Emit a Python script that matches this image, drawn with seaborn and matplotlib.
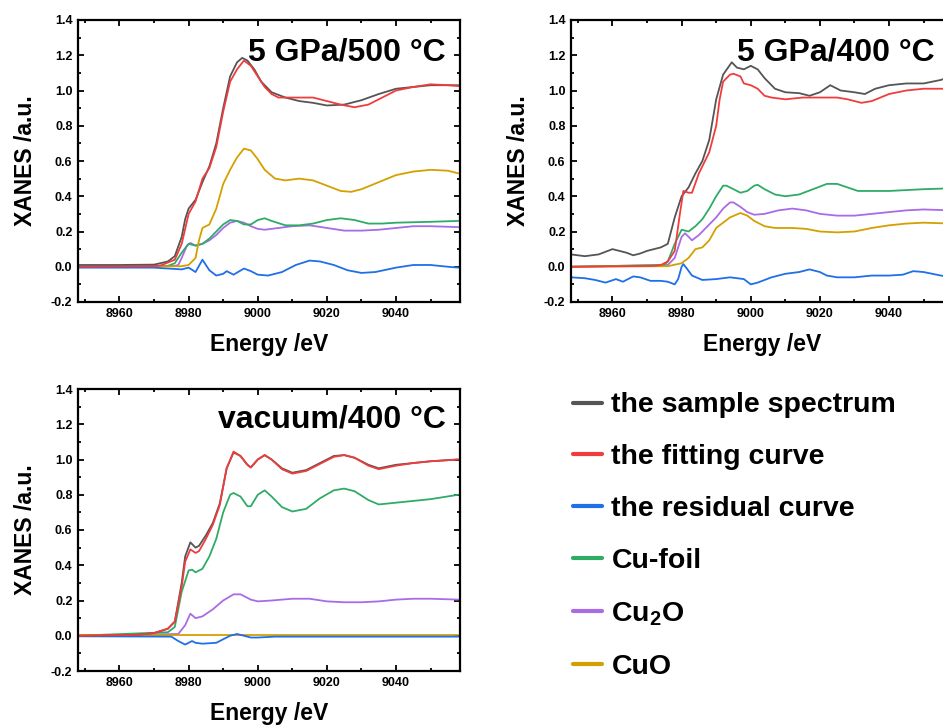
import matplotlib
matplotlib.use("Agg")
import matplotlib.pyplot as plt
import seaborn as sns
import pandas as pd
from matplotlib.lines import Line2D
from matplotlib.ticker import MultipleLocator

sns.set_theme(style="white")
plt.rcParams['font.family'] = ['Liberation Sans', 'DejaVu Sans']
plt.rcParams['mathtext.fontset'] = 'custom'
plt.rcParams['mathtext.rm'] = 'Liberation Sans'
plt.rcParams['mathtext.bf'] = 'Liberation Sans:bold'
plt.rcParams['text.color'] = 'black'
plt.rcParams['axes.labelcolor'] = 'black'
plt.rcParams['xtick.color'] = 'black'
plt.rcParams['ytick.color'] = 'black'

# ---------------- data ----------------
panel_titles = ["5 GPa/500 °C", "5 GPa/400 °C", "vacuum/400 °C"]
series_names = ["the sample spectrum", "the fitting curve", "the residual curve",
                "Cu-foil", "Cu$_\\mathbf{2}$O", "CuO"]
series_colors = ["#555555", "#f03c3c", "#1f6fe8", "#2eac66", "#a96be6", "#d4a000"]

# Panel 1: 5 GPa/500 °C
p1_sample_e = [8948, 8960, 8970, 8974, 8976, 8978, 8979, 8980, 8982, 8984, 8986, 8988, 8990, 8992, 8994, 8995.5, 8997, 8999, 9001, 9004, 9008, 9012, 9016, 9020, 9025, 9030, 9035, 9040, 9045, 9050, 9058]
p1_sample_v = [0.01, 0.01, 0.012, 0.03, 0.06, 0.17, 0.27, 0.33, 0.38, 0.48, 0.57, 0.70, 0.90, 1.08, 1.16, 1.185, 1.17, 1.12, 1.05, 0.99, 0.96, 0.94, 0.93, 0.915, 0.92, 0.945, 0.98, 1.01, 1.02, 1.03, 1.03]
p1_fit_e = [8948, 8970, 8972, 8976, 8978, 8980, 8982, 8984, 8986, 8988, 8990, 8992, 8994, 8996, 8998, 9000, 9002, 9004, 9006, 9008, 9012, 9016, 9020, 9024, 9028, 9032, 9036, 9040, 9045, 9050, 9055, 9058]
p1_fit_v = [0.0, 0.003, 0.008, 0.04, 0.13, 0.30, 0.37, 0.50, 0.56, 0.68, 0.88, 1.05, 1.12, 1.17, 1.14, 1.08, 1.02, 0.98, 0.96, 0.96, 0.96, 0.96, 0.94, 0.92, 0.905, 0.92, 0.96, 1.00, 1.02, 1.035, 1.03, 1.025]
p1_res_e = [8948, 8960, 8970, 8978, 8980, 8982, 8984, 8986, 8988, 8990, 8991, 8993, 8996, 8998, 9000, 9003, 9007, 9011, 9015, 9018, 9022, 9026, 9030, 9034, 9040, 9045, 9050, 9055, 9058]
p1_res_v = [-0.005, -0.005, -0.005, -0.015, -0.005, -0.03, 0.04, -0.02, -0.05, -0.04, -0.025, -0.045, -0.01, -0.025, -0.045, -0.05, -0.03, 0.01, 0.035, 0.03, 0.01, -0.02, -0.035, -0.03, -0.005, 0.01, 0.01, 0.0, -0.005]
p1_foil_e = [8948, 8974, 8976, 8978, 8980, 8982, 8984, 8986, 8988, 8990, 8992, 8994, 8996, 8998, 9000, 9002, 9004, 9008, 9012, 9016, 9020, 9024, 9028, 9032, 9036, 9040, 9050, 9058]
p1_foil_v = [0.0, 0.005, 0.02, 0.08, 0.13, 0.12, 0.13, 0.16, 0.20, 0.24, 0.265, 0.26, 0.24, 0.24, 0.265, 0.275, 0.26, 0.235, 0.235, 0.245, 0.265, 0.275, 0.265, 0.245, 0.245, 0.25, 0.255, 0.26]
p1_cu2o_e = [8948, 8976, 8977, 8978, 8979.5, 8980.5, 8982, 8984, 8986, 8988, 8990, 8992, 8994, 8996, 8998, 9000, 9002, 9006, 9010, 9015, 9020, 9025, 9030, 9035, 9040, 9045, 9050, 9058]
p1_cu2o_v = [0.0, 0.005, 0.01, 0.05, 0.12, 0.135, 0.12, 0.13, 0.15, 0.18, 0.22, 0.25, 0.26, 0.25, 0.23, 0.215, 0.21, 0.22, 0.23, 0.235, 0.22, 0.205, 0.205, 0.21, 0.22, 0.23, 0.23, 0.225]
p1_cuo_e = [8948, 8978, 8980, 8982, 8983, 8984, 8986, 8988, 8990, 8992, 8994, 8996, 8998, 9000, 9002, 9005, 9008, 9012, 9016, 9020, 9024, 9027, 9030, 9035, 9040, 9045, 9050, 9055, 9058]
p1_cuo_v = [0.0, 0.003, 0.01, 0.05, 0.15, 0.22, 0.24, 0.33, 0.47, 0.55, 0.62, 0.67, 0.66, 0.61, 0.55, 0.50, 0.49, 0.50, 0.49, 0.46, 0.43, 0.425, 0.44, 0.48, 0.52, 0.54, 0.55, 0.545, 0.53]

# Panel 2: 5 GPa/400 °C
p2_sample_e = [8948, 8952, 8956, 8958, 8960, 8962, 8964, 8966, 8968, 8970, 8972, 8974, 8976, 8978, 8980, 8982, 8984, 8986, 8988, 8990, 8992, 8994.5, 8996, 8998, 9000, 9002, 9004, 9007, 9010, 9014, 9017, 9020, 9023, 9026, 9030, 9033, 9036, 9040, 9045, 9050, 9055, 9058]
p2_sample_v = [0.07, 0.06, 0.07, 0.085, 0.10, 0.09, 0.08, 0.065, 0.075, 0.09, 0.10, 0.11, 0.13, 0.28, 0.40, 0.45, 0.53, 0.60, 0.72, 0.95, 1.09, 1.16, 1.13, 1.12, 1.14, 1.12, 1.07, 1.01, 0.99, 0.985, 0.97, 0.99, 1.03, 1.00, 0.99, 0.98, 1.01, 1.03, 1.04, 1.04, 1.06, 1.08]
p2_fit_e = [8948, 8972, 8974, 8976, 8978, 8979.5, 8980.5, 8982, 8983, 8985, 8988, 8990, 8991, 8992, 8994, 8995, 8997, 8998, 9000, 9002, 9004, 9006, 9010, 9015, 9020, 9025, 9028, 9032, 9035, 9040, 9045, 9050, 9058]
p2_fit_v = [0.0, 0.005, 0.01, 0.03, 0.09, 0.30, 0.43, 0.42, 0.42, 0.53, 0.65, 0.80, 0.95, 1.05, 1.09, 1.095, 1.08, 1.04, 1.03, 1.01, 0.97, 0.96, 0.95, 0.96, 0.96, 0.96, 0.95, 0.93, 0.94, 0.98, 1.00, 1.01, 1.01]
p2_res_e = [8948, 8952, 8955, 8958, 8961, 8963, 8966, 8968, 8971, 8974, 8976, 8978, 8979, 8980, 8980.5, 8981.5, 8983, 8986, 8990, 8994, 8998, 9000, 9002, 9006, 9010, 9014, 9017, 9020, 9022, 9025, 9030, 9035, 9040, 9044, 9047, 9050, 9055, 9058]
p2_res_v = [-0.06, -0.065, -0.075, -0.09, -0.07, -0.085, -0.055, -0.06, -0.08, -0.08, -0.085, -0.10, -0.07, 0.0, 0.015, -0.01, -0.05, -0.075, -0.07, -0.06, -0.07, -0.10, -0.09, -0.06, -0.04, -0.03, -0.015, -0.03, -0.05, -0.06, -0.06, -0.05, -0.05, -0.045, -0.025, -0.03, -0.05, -0.06]
p2_foil_e = [8948, 8975, 8976, 8978, 8980, 8982, 8984, 8986, 8988, 8990, 8992, 8993, 8995, 8997, 8999, 9001, 9002, 9004, 9007, 9010, 9014, 9018, 9022, 9025, 9028, 9031, 9035, 9040, 9050, 9058]
p2_foil_v = [0.0, 0.01, 0.03, 0.13, 0.21, 0.20, 0.23, 0.27, 0.33, 0.40, 0.46, 0.46, 0.44, 0.42, 0.43, 0.46, 0.465, 0.44, 0.41, 0.40, 0.41, 0.44, 0.47, 0.47, 0.45, 0.43, 0.43, 0.43, 0.44, 0.445]
p2_cu2o_e = [8948, 8976, 8978, 8980, 8981, 8983, 8985, 8987, 8990, 8992, 8994, 8995, 8997, 8999, 9001, 9004, 9008, 9012, 9016, 9020, 9025, 9030, 9035, 9040, 9045, 9050, 9058]
p2_cu2o_v = [0.0, 0.01, 0.05, 0.17, 0.19, 0.15, 0.18, 0.22, 0.28, 0.33, 0.365, 0.365, 0.34, 0.31, 0.295, 0.30, 0.32, 0.33, 0.32, 0.30, 0.29, 0.29, 0.30, 0.31, 0.32, 0.325, 0.32]
p2_cuo_e = [8948, 8976, 8980, 8982, 8984, 8986, 8988, 8990, 8992, 8994, 8997, 8999, 9001, 9004, 9007, 9012, 9016, 9020, 9025, 9030, 9035, 9040, 9045, 9050, 9058]
p2_cuo_v = [0.0, 0.003, 0.02, 0.05, 0.10, 0.11, 0.15, 0.22, 0.25, 0.28, 0.305, 0.29, 0.26, 0.23, 0.22, 0.22, 0.215, 0.20, 0.195, 0.20, 0.22, 0.235, 0.245, 0.25, 0.245]

# Panel 3: vacuum/400 °C
p3_sample_e = [8948, 8965, 8970, 8974, 8976, 8978, 8979, 8980.5, 8982, 8983, 8985, 8987, 8989, 8991, 8993, 8995, 8997, 8998, 9000, 9002, 9004, 9007, 9010, 9014, 9018, 9022, 9025, 9028, 9032, 9035, 9040, 9045, 9050, 9058]
p3_sample_v = [0.0, 0.005, 0.015, 0.04, 0.08, 0.30, 0.45, 0.53, 0.50, 0.51, 0.57, 0.64, 0.75, 0.95, 1.04, 1.02, 0.97, 0.955, 1.00, 1.025, 1.00, 0.95, 0.925, 0.94, 0.98, 1.02, 1.025, 1.01, 0.97, 0.95, 0.97, 0.98, 0.99, 1.00]
p3_fit_e = [8948, 8965, 8970, 8974, 8976, 8978, 8979, 8980.5, 8982, 8983, 8985, 8987, 8989, 8991, 8993, 8995, 8997, 8998, 9000, 9002, 9004, 9007, 9010, 9014, 9018, 9022, 9025, 9028, 9032, 9035, 9040, 9045, 9050, 9058]
p3_fit_v = [0.0, 0.005, 0.015, 0.04, 0.08, 0.28, 0.42, 0.49, 0.47, 0.48, 0.55, 0.63, 0.74, 0.95, 1.045, 1.02, 0.97, 0.955, 1.00, 1.025, 1.00, 0.945, 0.92, 0.935, 0.975, 1.015, 1.025, 1.01, 0.965, 0.945, 0.965, 0.98, 0.99, 1.00]
p3_res_e = [8948, 8975, 8977, 8979, 8980, 8981, 8982, 8984, 8988, 8990, 8992, 8994, 8996, 8998, 9000, 9005, 9058]
p3_res_v = [-0.003, -0.005, -0.03, -0.05, -0.04, -0.03, -0.04, -0.045, -0.04, -0.02, 0.0, 0.01, 0.0, -0.01, -0.01, -0.005, -0.005]
p3_foil_e = [8948, 8974, 8976, 8978, 8980, 8981, 8982, 8984, 8986, 8988, 8990, 8992, 8993, 8995, 8997, 8998, 9000, 9002, 9004, 9007, 9010, 9014, 9018, 9022, 9025, 9028, 9032, 9035, 9040, 9045, 9050, 9058]
p3_foil_v = [0.0, 0.02, 0.05, 0.25, 0.37, 0.375, 0.36, 0.38, 0.45, 0.55, 0.70, 0.80, 0.81, 0.79, 0.735, 0.735, 0.80, 0.825, 0.79, 0.73, 0.705, 0.72, 0.78, 0.825, 0.835, 0.82, 0.77, 0.745, 0.755, 0.765, 0.775, 0.80]
p3_cu2o_e = [8948, 8977, 8979, 8980.5, 8982, 8984, 8987, 8990, 8993, 8995, 8998, 9000, 9004, 9010, 9015, 9020, 9025, 9030, 9035, 9040, 9045, 9050, 9058]
p3_cu2o_v = [0.0, 0.01, 0.06, 0.125, 0.10, 0.11, 0.15, 0.20, 0.235, 0.235, 0.205, 0.195, 0.20, 0.21, 0.21, 0.195, 0.19, 0.19, 0.195, 0.205, 0.21, 0.21, 0.205]
p3_cuo_e = [8948, 9058]
p3_cuo_v = [0.005, 0.005]

panels = [
    [(p1_sample_e, p1_sample_v), (p1_fit_e, p1_fit_v), (p1_res_e, p1_res_v),
     (p1_foil_e, p1_foil_v), (p1_cu2o_e, p1_cu2o_v), (p1_cuo_e, p1_cuo_v)],
    [(p2_sample_e, p2_sample_v), (p2_fit_e, p2_fit_v), (p2_res_e, p2_res_v),
     (p2_foil_e, p2_foil_v), (p2_cu2o_e, p2_cu2o_v), (p2_cuo_e, p2_cuo_v)],
    [(p3_sample_e, p3_sample_v), (p3_fit_e, p3_fit_v), (p3_res_e, p3_res_v),
     (p3_foil_e, p3_foil_v), (p3_cu2o_e, p3_cu2o_v), (p3_cuo_e, p3_cuo_v)],
]
# drawing order (back to front)
draw_order = [4, 3, 5, 2, 0, 1]

# ---------------- figure ----------------
W, H = 943, 725
fig = plt.figure(figsize=(W / 100, H / 100), dpi=100)
fig.patch.set_facecolor("white")

def px_axes(left, top, right, bottom):
    return fig.add_axes([left / W, 1 - bottom / H, (right - left) / W, (bottom - top) / H])

axes_px = [(78, 20, 460, 302), (571, 20, 953, 302), (78, 389, 460, 671)]
title_pos = [(0.963, 0.858), (0.953, 0.858), (0.963, 0.865)]

for i, (box, series) in enumerate(zip(axes_px, panels)):
    ax = px_axes(*box)
    ax.set_facecolor("white")
    for k in draw_order:
        e, v = series[k]
        df = pd.DataFrame({"Energy": e, "XANES": v})
        sns.lineplot(data=df, x="Energy", y="XANES", ax=ax, color=series_colors[k],
                     linewidth=1.3, errorbar=None, sort=False)
    ax.set_xlim(8948, 9058.5)
    ax.set_ylim(-0.2, 1.4)
    ax.xaxis.set_major_locator(MultipleLocator(20))
    ax.xaxis.set_minor_locator(MultipleLocator(10))
    ax.yaxis.set_major_locator(MultipleLocator(0.2))
    ax.yaxis.set_minor_locator(MultipleLocator(0.1))
    ax.yaxis.set_major_formatter(matplotlib.ticker.FormatStrFormatter("%.1f"))
    ax.tick_params(which="both", direction="in", top=True, right=True,
                   bottom=True, left=True, width=1.3, colors="black", labelcolor="black")
    ax.tick_params(which="major", length=4, labelsize=9, pad=4)
    ax.tick_params(which="minor", length=2.5)
    for lab in ax.get_xticklabels() + ax.get_yticklabels():
        lab.set_fontweight("bold")
    for sp in ax.spines.values():
        sp.set_visible(True)
        sp.set_color("black")
        sp.set_linewidth(1.6)
    ax.set_xlabel("Energy /eV", fontsize=16.5, fontweight="bold", labelpad=10, color="black")
    ax.set_ylabel("XANES /a.u.", fontsize=16.5, fontweight="bold", labelpad=10, color="black")
    ax.grid(False)
    tx, ty = title_pos[i]
    ax.text(tx, ty, panel_titles[i], transform=ax.transAxes, ha="right", va="baseline",
            fontsize=23, fontweight="bold", color="black")

handles = [Line2D([0], [0], color=c, lw=3) for c in series_colors]
leg = fig.legend(handles, series_names, loc="upper left",
                 bbox_to_anchor=(573 / W, 1 - 392.5 / H), frameon=False,
                 prop={"size": 20.5, "weight": "bold"}, handlelength=1.02,
                 handletextpad=0.33, labelspacing=0.91, borderpad=0, borderaxespad=0)
for t in leg.get_texts():
    t.set_color("black")

fig.savefig("out.png", dpi=100, facecolor="white")
